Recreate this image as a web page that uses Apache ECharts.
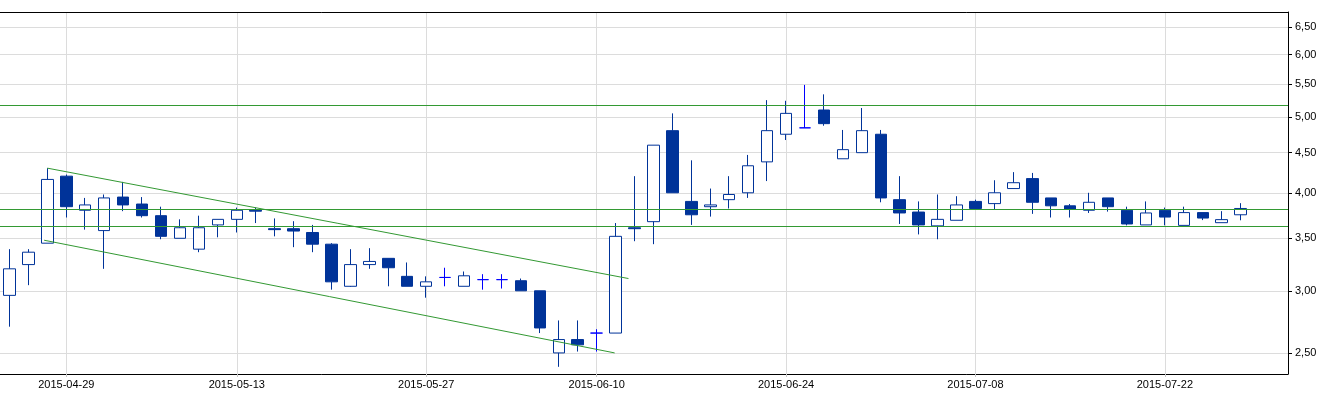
<!DOCTYPE html>
<html><head><meta charset="utf-8">
<script src="https://cdn.jsdelivr.net/npm/echarts@6/dist/echarts.min.js"></script>
<style>html,body{margin:0;padding:0;background:#fff}#c{width:1341px;height:394px}</style>
</head><body><div id="c"></div>
<script>
const dates=['2015-04-24','2015-04-27','2015-04-28','2015-04-29','2015-04-30','2015-05-04','2015-05-05','2015-05-06','2015-05-07','2015-05-08','2015-05-11','2015-05-12','2015-05-13','2015-05-14','2015-05-15','2015-05-18','2015-05-19','2015-05-20','2015-05-21','2015-05-22','2015-05-25','2015-05-26','2015-05-27','2015-05-28','2015-05-29','2015-06-01','2015-06-02','2015-06-03','2015-06-05','2015-06-08','2015-06-09','2015-06-10','2015-06-11','2015-06-12','2015-06-15','2015-06-16','2015-06-17','2015-06-18','2015-06-19','2015-06-22','2015-06-23','2015-06-24','2015-06-25','2015-06-26','2015-06-29','2015-06-30','2015-07-01','2015-07-02','2015-07-03','2015-07-06','2015-07-07','2015-07-08','2015-07-09','2015-07-10','2015-07-13','2015-07-14','2015-07-15','2015-07-16','2015-07-17','2015-07-20','2015-07-21','2015-07-22','2015-07-23','2015-07-24','2015-07-27','2015-07-28','2015-07-29','2015-07-30'];
const labelDates=['2015-04-29','2015-05-13','2015-05-27','2015-06-10','2015-06-24','2015-07-08','2015-07-22'];
const yTicks=[2.5,3,3.5,4,4.5,5,5.5,6,6.5];
const open=[2.96,3.24,3.45,4.20,3.80,3.58,3.95,3.87,3.74,3.50,3.39,3.64,3.70,3.80,3.60,3.60,3.56,3.44,3.04,3.24,3.30,3.13,3.04,3.12,3.04,3.10,3.10,3.09,3.00,2.50,2.60,2.65,2.65,3.61,3.675,4.80,3.90,3.84,3.92,4.00,4.38,4.75,4.84,5.10,4.42,4.50,4.75,3.92,3.78,3.63,3.69,3.90,3.875,4.05,4.17,3.94,3.85,3.80,3.94,3.80,3.64,3.80,3.635,3.774,3.664,3.75];
const close=[3.20,3.36,4.16,3.84,3.86,3.94,3.86,3.74,3.52,3.61,3.61,3.70,3.80,3.79,3.59,3.575,3.44,3.08,3.24,3.27,3.21,3.04,3.08,3.12,3.135,3.10,3.10,3.00,2.69,2.60,2.56,2.65,3.52,3.60,4.60,4.00,3.75,3.86,3.98,4.33,4.80,5.05,4.84,4.90,4.54,4.80,3.94,3.77,3.64,3.70,3.86,3.82,4.00,4.12,3.89,3.85,3.81,3.89,3.84,3.65,3.77,3.725,3.774,3.714,3.697,3.82];
const low=[2.70,3.05,3.45,3.72,3.59,3.20,3.79,3.72,3.49,3.50,3.36,3.51,3.56,3.66,3.52,3.41,3.36,3.01,3.035,3.20,3.04,3.04,2.94,3.04,3.04,3.01,3.02,3.00,2.65,2.40,2.51,2.51,2.65,3.47,3.44,4.00,3.64,3.73,3.82,3.94,4.14,4.67,4.84,4.87,4.42,4.50,3.89,3.65,3.54,3.49,3.69,3.81,3.81,4.05,3.76,3.72,3.72,3.77,3.785,3.635,3.64,3.635,3.635,3.692,3.664,3.69];
const high=[3.39,3.39,4.30,4.22,3.94,3.98,4.13,3.95,3.84,3.70,3.74,3.70,3.83,3.83,3.71,3.68,3.64,3.45,3.39,3.40,3.30,3.26,3.13,3.21,3.175,3.15,3.15,3.11,3.00,2.75,2.75,2.68,3.66,4.20,4.60,5.05,4.40,4.05,4.20,4.47,5.25,5.24,5.49,5.34,4.81,5.13,4.81,4.20,3.90,3.98,3.96,3.92,4.15,4.25,4.24,3.94,3.87,4.00,3.94,3.84,3.90,3.83,3.84,3.774,3.79,3.88];
const levels=[5.17,3.81,3.63];
const channelUpper=[[2.0,4.30],[32.68,3.11]];
const channelLower=[[1.83,3.48],[31.95,2.50]];

const FONT='Liberation Sans, Arial, sans-serif';
const GREEN='#339933', BLUE='#003399', DOJI='#0000ff', GRID='#dcdcdc';
const candles=open.map((o,i)=>[o,close[i],low[i],high[i]]);
const labelIdx=labelDates.map(d=>dates.indexOf(d));
const showLabel=(i,v)=>labelDates.indexOf(v)>=0;

const chart=echarts.init(document.getElementById('c'),null,{renderer:'canvas'});
chart.setOption({
  animation:false,
  backgroundColor:'#fff',
  grid:{left:0,right:53,top:12,bottom:20,containLabel:false},
  xAxis:[{
    type:'category',data:dates,boundaryGap:true,
    axisLine:{onZero:false,lineStyle:{color:'#000',width:1}},
    axisTick:{show:true,alignWithLabel:true,interval:showLabel,length:3,lineStyle:{color:'#c8c8c8'}},
    axisLabel:{interval:showLabel,fontFamily:FONT,fontSize:11,color:'#000',margin:5,hideOverlap:false},
    splitLine:{show:false}
  },{
    type:'value',min:-0.5,max:67.5,position:'top',
    axisLine:{show:true,onZero:false,lineStyle:{color:'#000',width:1}},
    axisTick:{show:false,customValues:labelIdx},
    axisLabel:{show:false},
    splitLine:{show:true,lineStyle:{color:GRID,width:1}}
  }],
  yAxis:{
    type:'log',logBase:10,min:2.35,max:6.8,position:'right',
    axisLine:{show:true,onZero:false,lineStyle:{color:'#000',width:1}},
    axisTick:{show:true,length:4,customValues:yTicks,lineStyle:{color:'#000'}},
    axisLabel:{customValues:yTicks,fontFamily:FONT,fontSize:11,color:'#000',margin:7,
      formatter:v=>Number(v).toFixed(2).replace('.',',')},
    splitLine:{show:true,lineStyle:{color:GRID,width:1}}
  },
  series:[{
    type:'candlestick',xAxisIndex:0,yAxisIndex:0,data:candles,barWidth:12,
    itemStyle:{color:'#ffffff',color0:BLUE,borderColor:BLUE,borderColor0:BLUE,borderColorDoji:DOJI,borderWidth:1},
    markLine:{silent:true,symbol:'none',label:{show:false},z:10,
      lineStyle:{color:GREEN,type:'solid',width:1,opacity:1},
      data:levels.map(v=>({yAxis:v,lineStyle:{color:GREEN,type:'solid',width:1}}))}
  },{
    type:'line',xAxisIndex:1,yAxisIndex:0,data:channelUpper,symbol:'none',silent:true,
    lineStyle:{color:GREEN,width:1}
  },{
    type:'line',xAxisIndex:1,yAxisIndex:0,data:channelLower,symbol:'none',silent:true,
    lineStyle:{color:GREEN,width:1}
  }]
});
</script></body></html>
